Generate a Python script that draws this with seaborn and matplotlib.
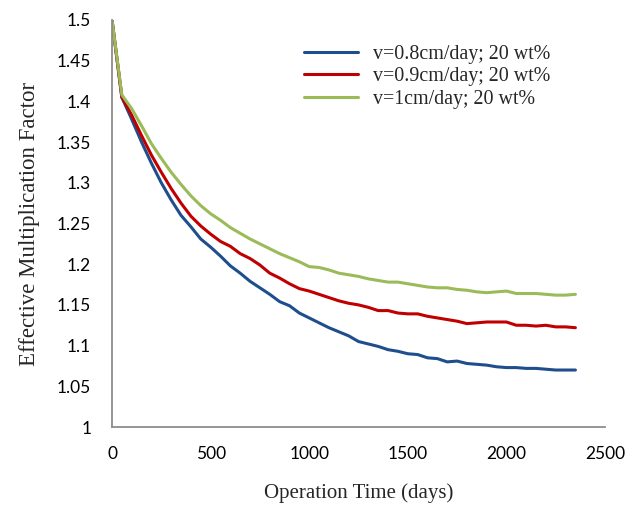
import matplotlib
matplotlib.use("Agg")
import matplotlib.pyplot as plt
import seaborn as sns
import pandas as pd
from matplotlib.lines import Line2D

days = [0, 50, 100, 150, 200, 250, 300, 350, 400, 450, 500, 550, 600, 650, 700, 750,
        800, 850, 900, 950, 1000, 1050, 1100, 1150, 1200, 1250, 1300, 1350, 1400, 1450,
        1500, 1550, 1600, 1650, 1700, 1750, 1800, 1850, 1900, 1950, 2000, 2050, 2100,
        2150, 2200, 2250, 2300, 2350]

k_v08 = [1.500, 1.405, 1.378, 1.350, 1.324, 1.300, 1.279, 1.260, 1.246, 1.231, 1.221,
         1.210, 1.198, 1.189, 1.179, 1.171, 1.163, 1.154, 1.149, 1.140, 1.134, 1.128,
         1.122, 1.117, 1.112, 1.105, 1.102, 1.099, 1.095, 1.093, 1.090, 1.089, 1.085,
         1.084, 1.080, 1.081, 1.078, 1.077, 1.076, 1.074, 1.073, 1.073, 1.072, 1.072,
         1.071, 1.070, 1.070, 1.070]

k_v09 = [1.500, 1.405, 1.383, 1.358, 1.334, 1.313, 1.293, 1.275, 1.259, 1.247, 1.237,
         1.228, 1.222, 1.213, 1.207, 1.199, 1.189, 1.183, 1.176, 1.170, 1.167, 1.163,
         1.159, 1.155, 1.152, 1.150, 1.147, 1.143, 1.143, 1.140, 1.139, 1.139, 1.136,
         1.134, 1.132, 1.130, 1.127, 1.128, 1.129, 1.129, 1.129, 1.125, 1.125, 1.124,
         1.125, 1.123, 1.123, 1.122]

k_v10 = [1.500, 1.408, 1.391, 1.370, 1.348, 1.330, 1.313, 1.298, 1.284, 1.272, 1.262,
         1.254, 1.245, 1.238, 1.231, 1.225, 1.219, 1.213, 1.208, 1.203, 1.197, 1.196,
         1.193, 1.189, 1.187, 1.185, 1.182, 1.180, 1.178, 1.178, 1.176, 1.174, 1.172,
         1.171, 1.171, 1.169, 1.168, 1.166, 1.165, 1.166, 1.167, 1.164, 1.164, 1.164,
         1.163, 1.162, 1.162, 1.163]

labels = ["v=0.8cm/day; 20 wt%", "v=0.9cm/day; 20 wt%", "v=1cm/day; 20 wt%"]
colors = ["#1F4E8C", "#C00000", "#9BBB59"]

x_ticks = [0, 500, 1000, 1500, 2000, 2500]
y_ticks = [1, 1.05, 1.1, 1.15, 1.2, 1.25, 1.3, 1.35, 1.4, 1.45, 1.5]
y_ticklabels = ["1", "1.05", "1.1", "1.15", "1.2", "1.25", "1.3", "1.35", "1.4", "1.45", "1.5"]

df = pd.concat([
    pd.DataFrame({"days": days, "k": vals, "series": lab})
    for vals, lab in zip([k_v08, k_v09, k_v10], labels)
], ignore_index=True)

sns.set_style("white")
plt.rcParams["font.family"] = ["Lato", "DejaVu Sans"]

fig = plt.figure(figsize=(6.43, 5.08), dpi=100)
ax = fig.add_axes([112 / 643, 1 - 427 / 508, (605 - 112) / 643, (427 - 20) / 508])

sns.lineplot(data=df, x="days", y="k", hue="series", hue_order=labels,
             palette=colors, linewidth=2.2, ax=ax, legend=False)

ax.set_xlim(0, 2500)
ax.set_ylim(1, 1.5)
ax.set_xticks(x_ticks)
ax.set_xticklabels([str(t) for t in x_ticks])
ax.set_yticks(y_ticks)
ax.set_yticklabels(y_ticklabels)

for side in ["top", "right"]:
    ax.spines[side].set_visible(False)
for side in ["left", "bottom"]:
    ax.spines[side].set_color("#8c8c8c")
    ax.spines[side].set_linewidth(1.3)
ax.tick_params(axis="both", direction="out", length=5, width=1.3, color="#8c8c8c",
               labelsize=12.5, labelcolor="black")
ax.tick_params(axis="y", pad=10)
ax.tick_params(axis="x", pad=9)

serif = ["Liberation Serif", "DejaVu Serif"]
ax.set_xlabel("Operation Time (days)", family=serif, fontsize=15, labelpad=15)
ax.set_ylabel("Effective Multiplication Factor", family=serif, fontsize=16.5, labelpad=12)

handles = [Line2D([0], [0], color=c, lw=2.2) for c in colors]
leg = fig.legend(handles, labels, loc="upper left", bbox_to_anchor=(304 / 643, 1 - 45 / 508),
                 frameon=False, prop={"family": serif, "size": 14.4}, handlelength=2.7,
                 handletextpad=0.75, labelspacing=0.17, borderpad=0, borderaxespad=0)

fig.savefig("out.png", dpi=100)
